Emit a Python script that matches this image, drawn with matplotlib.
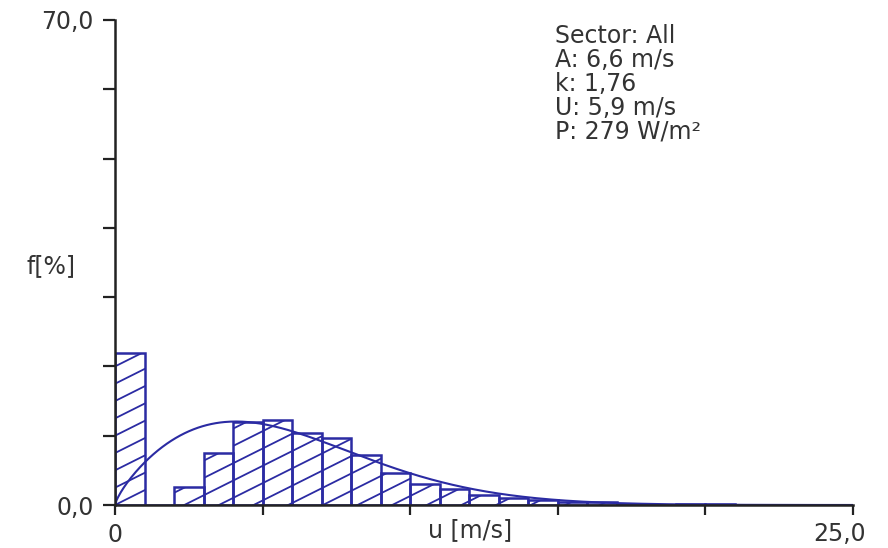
import numpy as np
import matplotlib.pyplot as plt
from matplotlib.collections import LineCollection

plt.rcParams['font.family'] = ['DejaVu Sans']

# observed frequency per 1 m/s bin [%], bins start at 0, 1, 2 ... m/s
bin_left = np.arange(0, 21)
freq = [22.0, 0.0, 2.6, 7.5, 12.0, 12.3, 10.4, 9.7, 7.2, 4.6,
        3.1, 2.3, 1.4, 1.0, 0.7, 0.5, 0.45, 0.2, 0.0, 0.2, 0.2]

# fitted Weibull parameters and derived stats
sector = 'All'
A = 6.6      # m/s
k = 1.76
U = 5.9      # m/s
P = 279      # W/m2

info_lines = ['Sector: ' + sector,
              'A: %s m/s' % str(A).replace('.', ','),
              'k: %s' % str(k).replace('.', ','),
              'U: %s m/s' % str(U).replace('.', ','),
              'P: %d W/m²' % P]

blue = '#2b2ba3'
axis_col = '#222222'
txt_col = '#333333'
W, H = 888, 548
fs = 17


def px(x, y):
    # pixel position (from top left) -> figure fraction
    return x / W, 1 - y / H


fig = plt.figure(figsize=(W / 100, H / 100), dpi=100)
ax = fig.add_axes([115 / W, 1 - 505 / H, (853 - 115) / W, (505 - 20) / H])

bars = ax.bar(bin_left, freq, width=1.0, align='edge', facecolor='none',
              edgecolor=blue, linewidth=1.8, zorder=2)

# flat slanted hatching clipped to each bar
slope = 2.13
step = 2.5
xs = np.array([-1.0, 26.0])
segs = [np.column_stack([xs, slope * xs + c]) for c in np.arange(-60, 30, step)]
for b in bars:
    lc = LineCollection(segs, colors=blue, linewidths=1.3, zorder=2)
    ax.add_collection(lc, autolim=False)
    lc.set_clip_path(b)

# Weibull density curve
u = np.linspace(0, 25, 500)
f = 100 * (k / A) * (u / A) ** (k - 1) * np.exp(-(u / A) ** k)
ax.plot(u, f, color=blue, lw=1.5, zorder=3)

ax.set_xlim(0, 25)
ax.set_ylim(0, 70)
for s in ['top', 'right']:
    ax.spines[s].set_visible(False)
for s in ['left', 'bottom']:
    ax.spines[s].set_color(axis_col)
    ax.spines[s].set_linewidth(1.8)
    ax.spines[s].set_zorder(4)

ax.set_xticks(range(0, 26, 5))
ax.set_xticklabels(['0', '', '', '', '', ''])
ax.set_yticks(range(0, 71, 10))
ax.set_yticklabels(['0,0'] + [''] * 6 + ['70,0'])
ax.tick_params(axis='x', direction='out', length=7, width=1.6, pad=6,
               color=axis_col, labelcolor=txt_col, labelsize=fs)
ax.tick_params(axis='y', direction='out', length=8.5, width=1.6, pad=7,
               color=axis_col, labelcolor=txt_col, labelsize=fs)

fig.text(*px(51, 273), 'f[%]', ha='center', va='baseline', fontsize=fs, color=txt_col)
fig.text(*px(470, 537), 'u [m/s]', ha='center', va='baseline', fontsize=fs, color=txt_col)
fig.text(*px(840, 541), '25,0', ha='center', va='baseline', fontsize=fs, color=txt_col)

for i, line in enumerate(info_lines):
    fig.text(*px(555, 43 + 24 * i), line, ha='left', va='baseline',
             fontsize=fs, color=txt_col)

fig.savefig('out.png', dpi=100)
